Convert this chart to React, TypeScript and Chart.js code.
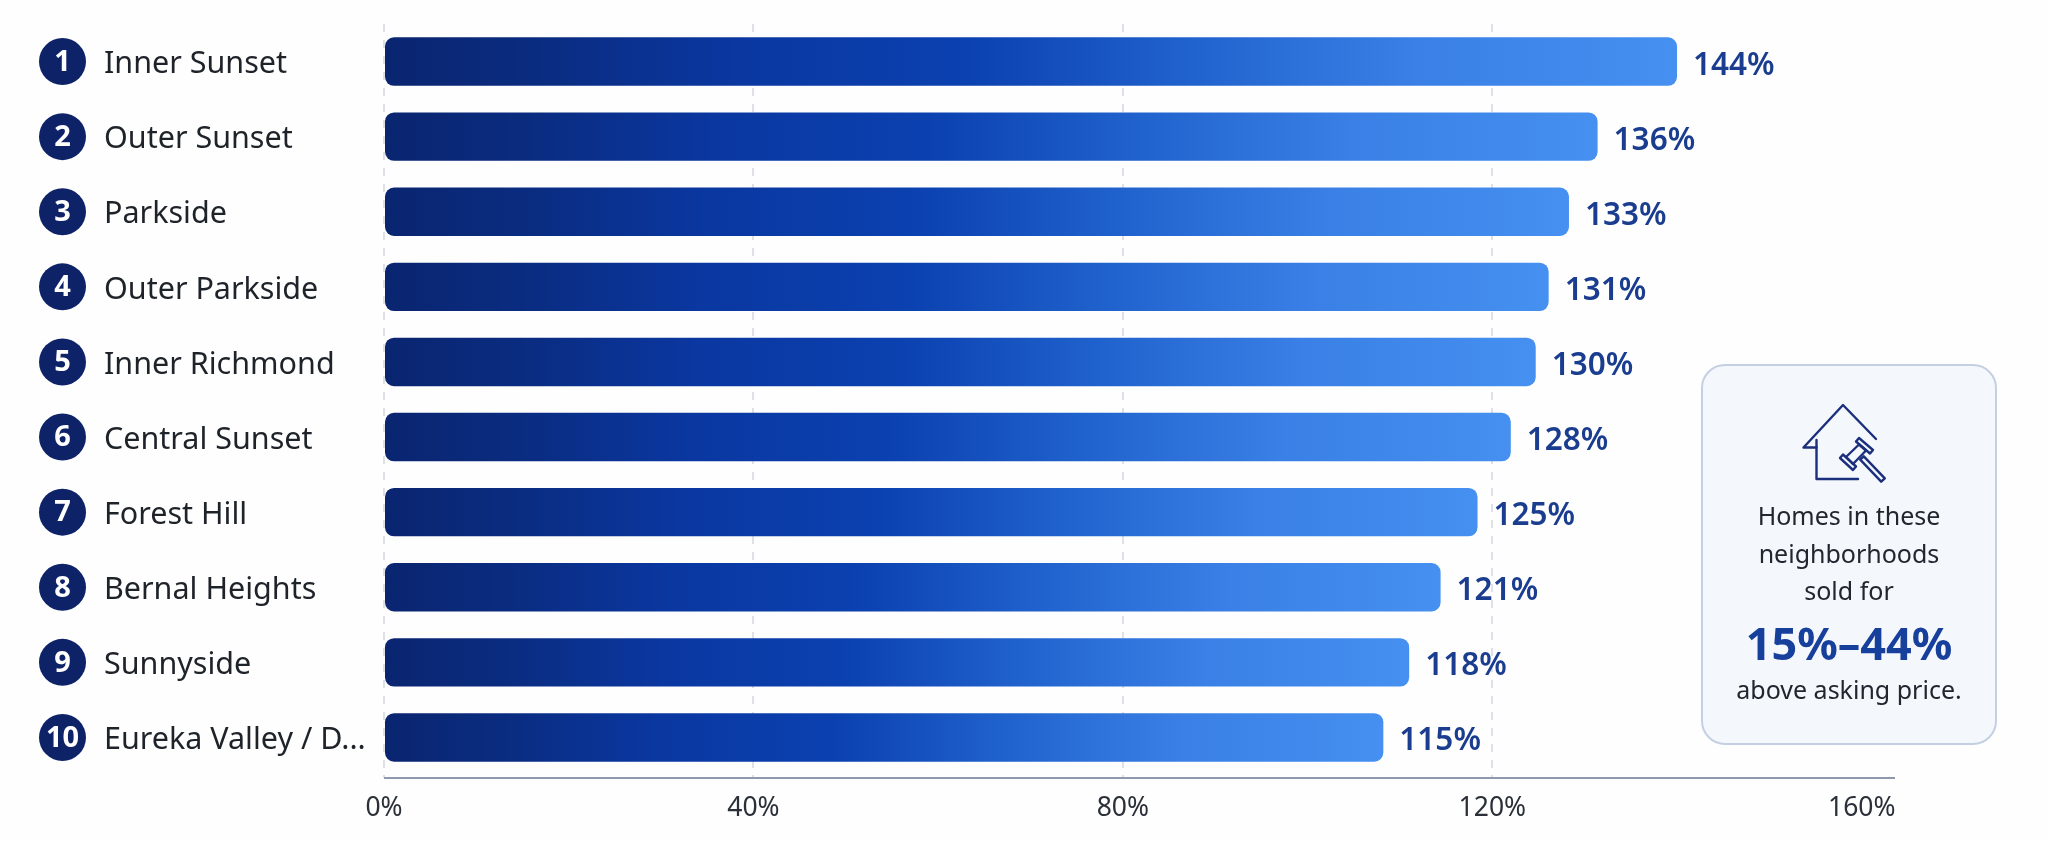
import React, { useEffect, useRef } from "react";
import { Chart, registerables } from "chart.js";

Chart.register(...registerables);

const FONT = '"Noto Sans", sans-serif';

const neighborhoods = [
  "Inner Sunset",
  "Outer Sunset",
  "Parkside",
  "Outer Parkside",
  "Inner Richmond",
  "Central Sunset",
  "Forest Hill",
  "Bernal Heights",
  "Sunnyside",
  "Eureka Valley / D...",
];
const ranks = ["1", "2", "3", "4", "5", "6", "7", "8", "9", "10"];
// Bar lengths as they read against the picture's own axis.
const barLengths = [140.0, 131.4, 128.3, 126.1, 124.7, 122.0, 118.4, 114.4, 111.0, 108.2];
// Values printed at the end of each bar in the picture.
const printedValues = ["144%", "136%", "133%", "131%", "130%", "128%", "125%", "121%", "118%", "115%"];
const axisMax = 163.6;
const tickValues = [0, 40, 80, 120, 160];

const ornaments = {
  id: "ornaments",
  afterDatasetsDraw(chart: any) {
    const { ctx, scales, chartArea } = chart;
    const x = scales.x;
    const y = scales.y;
    ctx.save();
    // axis line
    ctx.strokeStyle = "#8e99ae";
    ctx.lineWidth = 2;
    ctx.beginPath();
    ctx.moveTo(chartArea.left, chartArea.bottom + 3);
    ctx.lineTo(chartArea.right, chartArea.bottom + 3);
    ctx.stroke();
    // printed values
    ctx.font = `600 31.5px ${FONT}`;
    ctx.fillStyle = "#1a3d8f";
    ctx.textAlign = "left";
    ctx.textBaseline = "middle";
    barLengths.forEach((v, i) => {
      ctx.fillText(printedValues[i], x.getPixelForValue(v) + 16, y.getPixelForValue(i) + 4);
    });
    // rank badges
    ranks.forEach((r, i) => {
      const cy = y.getPixelForValue(i);
      ctx.beginPath();
      ctx.arc(62.5, cy, 23.5, 0, Math.PI * 2);
      ctx.fillStyle = "#0e2268";
      ctx.fill();
      ctx.fillStyle = "#ffffff";
      ctx.font = `700 29px ${FONT}`;
      ctx.textAlign = "center";
      ctx.fillText(r, 62.5, cy + 1);
    });
    ctx.restore();
  },
};

export default function App() {
  const ref = useRef<HTMLCanvasElement | null>(null);

  useEffect(() => {
    const canvas = ref.current;
    if (!canvas) return;
    const chart = new Chart(canvas, {
      type: "bar",
      data: {
        labels: neighborhoods,
        datasets: [
          {
            data: barLengths,
            barPercentage: 0.645,
            categoryPercentage: 1,
            borderRadius: 9,
            borderSkipped: false,
            backgroundColor: (c: any) => {
              const { chart: ch, dataIndex } = c;
              const xs = ch.scales.x;
              if (!xs || dataIndex === undefined) return "#1040b0";
              const x0 = xs.getPixelForValue(0);
              const x1 = xs.getPixelForValue(barLengths[dataIndex]);
              if (!Number.isFinite(x0) || !Number.isFinite(x1)) return "#1040b0";
              const g = ch.ctx.createLinearGradient(x0, 0, x1, 0);
              g.addColorStop(0, "#0a2570");
              g.addColorStop(0.12, "#0a2c80");
              g.addColorStop(0.27, "#0a37a0");
              g.addColorStop(0.45, "#0b41b0");
              g.addColorStop(0.62, "#2062cd");
              g.addColorStop(0.8, "#3a80e6");
              g.addColorStop(1, "#4590f0");
              return g;
            },
          },
        ],
      },
      options: {
        indexAxis: "y",
        responsive: false,
        animation: false,
        layout: { padding: { left: 104, right: 153, top: 24, bottom: 0 } },
        plugins: { legend: { display: false }, tooltip: { enabled: false } },
        scales: {
          x: {
            type: "linear",
            min: 0,
            max: axisMax,
            afterBuildTicks: (s: any) => {
              s.ticks = tickValues.map((value) => ({ value }));
            },
            afterFit: (s: any) => {
              s.height = 66;
            },
            border: { display: false, dash: [8, 8] },
            grid: {
              drawTicks: true,
              tickLength: 3,
              lineWidth: 2,
              color: (c: any) => (c.tick && c.tick.value === 160 ? "rgba(0,0,0,0)" : "#dfe1e7"),
              tickColor: (c: any) => (c.tick && c.tick.value === 160 ? "rgba(0,0,0,0)" : "#dfe1e7"),
            },
            ticks: {
              padding: 15,
              maxRotation: 0,
              color: "#2b2f38",
              font: { family: FONT, size: 26.5 },
              callback: (v: any) => `${v}%`,
            },
          },
          y: {
            type: "category",
            afterFit: (s: any) => {
              s.width = 280;
            },
            border: { display: false },
            grid: { display: false, drawTicks: false },
            ticks: {
              autoSkip: false,
              crossAlign: "far",
              padding: 0,
              labelOffset: 3,
              color: "#1e2229",
              font: { family: FONT, size: 30.5 },
            },
          },
        },
      },
      plugins: [ornaments],
    } as any);
    return () => chart.destroy();
  }, []);

  const line = { fontSize: 25, lineHeight: "37.5px", color: "#22262e" };

  return (
    <div style={{ position: "fixed", inset: 0, width: 2048, height: 841, background: "#fefefe", overflow: "hidden", fontFamily: FONT }}>
      <canvas ref={ref} width={2048} height={841} style={{ display: "block", width: 2048, height: 841 }} />
      <div
        style={{
          position: "absolute",
          left: 1701,
          top: 364,
          width: 296,
          height: 381,
          boxSizing: "border-box",
          background: "#f4f8fd",
          border: "2px solid #c4d0e2",
          borderRadius: 24,
        }}
      />
      <svg
        viewBox="0 0 120 110"
        width={120}
        height={110}
        style={{ position: "absolute", left: 1790, top: 390 }}
        fill="none"
        stroke="#1b2f7c"
        strokeWidth={2.4}
        strokeLinejoin="round"
        strokeLinecap="round"
      >
        <polyline points="86,49 53,15 13.5,57.5 26.5,57.5" />
        <polyline points="26.5,50 26.5,89 68,89" />
        <polygon points="56,67 69,54.5 76,60.5 63,74" />
        <polygon points="50,68 63,80 66,76.5 53,64.5" />
        <polygon points="69,48 83,60 80,63.5 66,51.5" />
        <polygon points="73.8,66.3 94.8,88.3 91.2,91.7 70.2,69.7" />
      </svg>
      <div style={{ position: "absolute", left: 1701, width: 296, top: 497, textAlign: "center" }}>
        <div style={line}>Homes in these</div>
        <div style={line}>neighborhoods</div>
        <div style={line}>sold for</div>
      </div>
      <div style={{ position: "absolute", left: 1701, width: 296, top: 611, textAlign: "center", fontSize: 45, fontWeight: 700, lineHeight: "64px", color: "#173f9c" }}>
        15%–44%
      </div>
      <div style={{ position: "absolute", left: 1701, width: 296, top: 671, textAlign: "center", ...line }}>above asking price.</div>
    </div>
  );
}
